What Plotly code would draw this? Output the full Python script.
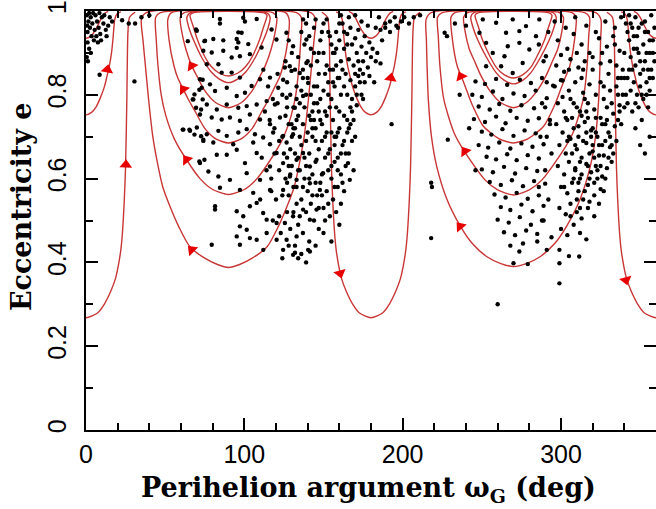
import plotly.graph_objects as go

# ---------------- trajectory profiles: eccentricity (bottom->top) and half-width (deg) ----------------
# family centred at omega = 90 deg
c1_e = [0.845, 0.852, 0.868, 0.889, 0.93, 0.96, 0.977, 0.99, 0.996]
c1_hw = [0, 6, 11, 14.7, 19.5, 22, 23.5, 24.3, 22]
c2_e = [0.829, 0.838, 0.855, 0.889, 0.93, 0.96, 0.985, 0.996]
c2_hw = [0, 6, 11, 16.9, 22, 25, 26.3, 24]
c3_e = [0.769, 0.781, 0.81, 0.845, 0.869, 0.91, 0.95, 0.985, 0.996]
c3_hw = [0, 8, 15, 20, 23.2, 27, 29.5, 30.5, 28]
c4_e = [0.685, 0.695, 0.72, 0.76, 0.79, 0.813, 0.84, 0.87, 0.93, 0.98, 0.996]
c4_hw = [0, 8, 15, 21, 25.5, 28.5, 32, 34.5, 37.5, 38.3, 36]
c5_e = [0.562, 0.574, 0.6, 0.645, 0.693, 0.749, 0.8, 0.868, 0.93, 0.985, 0.996]
c5_hw = [0, 10, 18, 26.5, 34, 39.5, 42.5, 44.5, 45.6, 46, 43]
c6_e = [0.388, 0.395, 0.41, 0.438, 0.486, 0.534, 0.58, 0.64, 0.70, 0.79, 0.87, 0.93, 0.98, 0.996]
c6_hw = [0, 7, 15, 24.5, 31.5, 37, 41.5, 45, 47.8, 50.5, 52.5, 54, 55, 52]

# family centred at omega = 270 deg
d1_e = [0.84, 0.848, 0.866, 0.889, 0.93, 0.96, 0.977, 0.99, 0.996]
d1_hw = [0, 6, 11, 14.5, 19.5, 22, 23.5, 24.3, 22]
d2_e = [0.826, 0.835, 0.853, 0.889, 0.93, 0.96, 0.985, 0.996]
d2_hw = [0, 6, 11, 17, 22.5, 25.5, 27, 25]
d3_e = [0.769, 0.781, 0.81, 0.845, 0.875, 0.91, 0.95, 0.985, 0.996]
d3_hw = [0, 8, 15, 20.5, 24, 28, 30.5, 31.5, 29]
d4_e = [0.685, 0.695, 0.725, 0.78, 0.82, 0.844, 0.868, 0.93, 0.985, 0.996]
d4_hw = [0, 9, 19, 26.5, 30.5, 33, 35.5, 38.5, 39.5, 37]
d5_e = [0.561, 0.573, 0.597, 0.665, 0.709, 0.789, 0.87, 0.94, 0.985, 0.996]
d5_hw = [0, 10, 18, 31, 37.5, 44, 46.5, 47.5, 48, 45]
d6_e = [0.39, 0.397, 0.414, 0.445, 0.486, 0.55, 0.629, 0.70, 0.789, 0.87, 0.93, 0.98, 0.996]
d6_hw = [0, 8, 17, 26, 33.5, 42, 48.5, 51.8, 53.8, 54.6, 55, 55.2, 52]

# open trajectories centred at 0, 180, 360 deg
s_e = [0.268, 0.28, 0.3, 0.33, 0.36, 0.39, 0.43, 0.47, 0.55, 0.63, 0.79, 0.95, 0.985, 0.997]
s_hw = [0, 7.5, 11.5, 15.5, 18.5, 20.3, 22, 23, 24.2, 25, 25.8, 26.5, 27.5, 31]
u_e = [0.752, 0.758, 0.772, 0.795, 0.82, 0.845, 0.868, 0.9, 0.932, 0.96, 0.98, 0.993, 0.998]
u_hw = [0, 3.5, 6.5, 9.3, 11.7, 13.3, 14.7, 16.1, 17, 17.6, 18.2, 19.5, 22]
v_e = [0.935, 0.94, 0.955, 0.97, 0.985, 0.995, 0.999]
v_hw = [0, 3, 6, 8, 10, 12, 14]

family_centres = [90, 270]
open_centres = [0, 180, 360]

# direction arrows (omega, e, heading in degrees clockwise from up)
arrow_w = [13.5, 25.2, 66.8, 63.5, 61.5, 66.8, 160.5, 192.5, 236.3, 239.3, 236.8, 341.0]
arrow_e = [0.86, 0.633, 0.43, 0.645, 0.813, 0.869, 0.374, 0.84, 0.486, 0.665, 0.844, 0.358]
arrow_dir = [10, 3, -45, -37, -37, -30, 165, 10, -40, -35, -25, 165]

# ---------------- observed objects (omega, e) ----------------
dots_corner = [(0.5,0.99),(1.5,0.975),(2.5,0.96),(1,0.95),(3,0.985),(4,0.97),(5.5,0.955),(6,0.99),(7,0.975),
    (8,0.96),(9,0.945),(10,0.985),(11,0.97),(12.5,0.955),(3.5,0.94),(1,0.925),(2,0.91),(0.5,0.89),(5,0.93),
    (7.5,0.925),(9.5,0.93),(13,0.94),(14,0.965),(4.5,0.995),(8.5,0.995),(2,0.995),(11.5,0.99),(6.5,0.94),
    (0.8,0.965),(1.2,0.88),(3,0.9),(15,0.985),(16.5,0.975),(8.6,0.848),(22.8,0.978),(27,0.97),(31,0.97),
    (30.6,0.832),(35,0.985),(40,0.99)]
dots_inner90 = [(84.6,0.981),(99.3,0.984),(107.8,0.981),(70,0.953),(75.2,0.929),(74.1,0.905),(79.4,0.901),
    (80.4,0.933),(96.2,0.949),(95.2,0.933),(102.5,0.921),(103.5,0.897),(110.9,0.913),(86.7,0.905),(85.7,0.853),
    (92,0.853),(97.2,0.841),(92,0.889),(83.6,0.873),(76.3,0.873),(84.6,0.97),(100.4,0.975),(98.3,0.948),
    (96.2,0.925),(95.2,0.912),(86.7,0.93),(97.2,0.892),(69.5,0.956),(64.3,0.928),(74.8,0.928)]
dots_mid90 = [(72.0,0.837),(73.1,0.817),(78.3,0.825),(81.5,0.809),(88.9,0.817),(95.2,0.797),(100.4,0.805),
    (104.6,0.821),(109.9,0.837),(116.2,0.841),(121.4,0.817),(125.6,0.865),(129.8,0.857),(67.8,0.789),(76.3,0.777),
    (82.6,0.765),(88.9,0.777),(96.2,0.769),(101.5,0.773),(107.8,0.777),(114.1,0.785),(119.3,0.777),(126.7,0.793),
    (131.9,0.769),(72.0,0.753),(79.4,0.746),(85.7,0.741),(90.9,0.746),(97.2,0.738),(103.5,0.753),(109.9,0.741),
    (116.2,0.730),(122.5,0.746),(129.8,0.730),(65.7,0.714),(70.0,0.722),(76.3,0.706),(83.6,0.714),(88.9,0.702),
    (96.2,0.710),(101.5,0.718),(106.7,0.706),(111.9,0.698),(118.2,0.710),(124.5,0.702),(130.8,0.706),(74.1,0.690),
    (80.4,0.686),(93.0,0.682),(105.6,0.686),(116.2,0.682),(126.7,0.686),(73.7,0.836),(71.6,0.812),(68.5,0.801),
    (73.7,0.789),(67.4,0.789),(69.5,0.769),(72.7,0.765),(61.1,0.717),(65.3,0.717),(68.5,0.705),(72.7,0.701),
    (71.6,0.641),(74.8,0.645),(61.5,0.717),(74.1,0.693),(72,0.637),
    (112,0.86),(115,0.82),(118,0.79),(121,0.85),(124,0.8),(127,0.77),(113,0.76),(116,0.74),(119,0.72),(122,0.69),
    (125,0.66),(128,0.63),(111,0.65),(114,0.62),(117,0.57),(110,0.55)]
dots_low90 = [(77.3,0.617),(82.6,0.657),(88.9,0.657),(95.2,0.669),(100.4,0.637),(107.8,0.661),(101.5,0.613),
    (109.9,0.597),(116.2,0.629),(120.4,0.661),(124.5,0.637),(128.8,0.605),(133,0.645),(137.1,0.661),(141.4,0.629),
    (145.6,0.645),(149.7,0.613),(83.6,0.605),(90.9,0.597),(84.6,0.578),(97.2,0.573),(105.6,0.566),(116.2,0.573),
    (124.5,0.573),(133,0.597),(141.4,0.589),(147.7,0.573),(81.5,0.534),(81.5,0.526),(95.2,0.522),(99.3,0.510),
    (103.5,0.534),(107.8,0.542),(111.9,0.518),(114.1,0.502),(120.4,0.494),(125.6,0.494),(130.8,0.510),(137.1,0.526),
    (141.4,0.502),(145.6,0.526),(97.2,0.486),(101.5,0.478),(95.2,0.462),(103.5,0.458),(114.1,0.470),(120.4,0.454),
    (126.7,0.454),(133,0.462),(79.4,0.442),(97.2,0.442),(107.8,0.454),(124.5,0.430),(130.8,0.418),(141.4,0.426),
    (121,0.78),(126,0.75),(131,0.72),(124,0.7),(129,0.67),(134,0.65),(119,0.66),(122,0.62),(127,0.59),(117,0.6),
    (120,0.55),(118,0.5),(123,0.47),(112,0.43),(128,0.44),(134,0.41),(124,0.41)]
dots_band_top = [(117.2,0.956),(120.3,0.932),(126.6,0.948),(130.8,0.916),(137.1,0.98),(139.2,0.932),(128.7,0.868),
    (135,0.852),(139.2,0.876),(124.5,0.836),(133,0.82),(140.3,0.828),(137.1,0.797),
    (158,0.95),(160,0.93),(162,0.97),(163,0.91),(165,0.945),(166,0.885),(167,0.96),(168,0.92),(169,0.87),(170,0.935),
    (171,0.9),(172,0.955),(173,0.86),(174,0.915),(175,0.88),(176,0.94),(177,0.9),(178,0.865),(179,0.925),(180,0.89),
    (181,0.91),(183,0.88),(184,0.9),(186,0.875),(164,0.85),(167,0.835),(170,0.82),(172,0.845),(174,0.8),(176,0.83),
    (161,0.88),(163,0.82),(165,0.8),(168,0.79),(171,0.775),(159,0.84),(157,0.9),(161,0.99),(166,0.985),(174,0.975),
    (178,0.965),(183,0.96),(187,0.93),(189,0.96),(192,0.975),(196,0.965),(185,0.985),(170,0.99),(162,0.86),(175,0.85),
    (179,0.845),(182,0.83),(186,0.955),(189,0.97),(192,0.95),(195,0.985),(197,0.96),(199,0.975),(201,0.985),
    (204,0.97),(207,0.985),(211,0.99),(193,0.73)]
dots_band_mid = [(140,0.84),(142,0.8),(143,0.76),(144,0.82),(145,0.72),(146,0.78),(147,0.85),(148,0.74),(149,0.69),
    (150,0.81),(151,0.76),(152,0.71),(153,0.83),(154,0.67),(155,0.79),(156,0.74),(157,0.7),(158,0.77),(159,0.65),
    (160,0.72),(161,0.8),(162,0.68),(163,0.75),(164,0.63),(165,0.71),(166,0.66),(167,0.73),(168,0.69),(169,0.62),
    (170,0.7),(138,0.77),(137,0.73),(139,0.69),(141,0.66),(143,0.7),(145,0.64),(147,0.67),(149,0.61),(151,0.65),
    (153,0.62),(155,0.6),(157,0.64),(159,0.58),(161,0.61),(163,0.57),(136,0.81),(134,0.75),(135,0.7),(132,0.72),
    (133,0.79),(146,0.88),(150,0.9),(152,0.87),(155,0.92),(156,0.86),(153,0.95),(148,0.93),(144,0.9),(141,0.94),
    (139,0.97),(145,0.98),(150,0.97),(157,0.82),(154,0.77),(160,0.76),(158,0.7),(142,0.87),(137,0.86),(148,0.79),
    (152,0.75),(144,0.74),(166.6,0.597),(165.5,0.637),
    (127,0.83),(129,0.8),(131,0.77),(133,0.74),(135,0.78),(137,0.84),(139,0.8),(141,0.75),(143,0.72),(145,0.69),
    (147,0.76),(149,0.73),(151,0.7),(153,0.66),(155,0.63),(157,0.68),(159,0.71),(161,0.66),(163,0.69),(165,0.74),
    (167,0.77),(169,0.74),(171,0.8),(173,0.83),(175,0.79),(160,0.84),(158,0.87),(156,0.9),(154,0.94),(152,0.98),
    (149,0.95),(147,0.9),(151,0.85),(153,0.8),(155,0.71),(159,0.62),(162,0.59),(164,0.66),(166,0.72),(168,0.76),
    (170,0.85),(172,0.88),(165,0.92),(163,0.95),(160,0.97),(158,0.91),(156,0.83),(154,0.86),(146,0.82),(144,0.78),
    (142,0.74),(140,0.71),(138,0.65),(136,0.68),(134,0.62),(132,0.66),(130,0.7),(128,0.73),(127,0.65),(129,0.61),
    (131,0.58),(133,0.54),(135,0.51),(137,0.58),(139,0.63),(141,0.6),(143,0.56),(145,0.59),(147,0.53),(149,0.56),
    (151,0.5),(153,0.54),(157,0.58),(161,0.54),(144,0.96),(142,0.91),(140,0.88),(138,0.92),(136,0.95),(134,0.89),
    (132,0.86),(130,0.9),(128,0.93),(126,0.88)]
dots_band_low = [(126,0.6),(128,0.56),(130,0.63),(131,0.52),(133,0.58),(134,0.49),(135,0.62),(136,0.55),(137,0.47),
    (138,0.6),(139,0.52),(140,0.57),(141,0.45),(142,0.54),(143,0.61),(144,0.5),(146,0.56),(147,0.48),(148,0.59),
    (150,0.53),(152,0.57),(154,0.51),(156,0.55),(158,0.52),(160,0.49),(129,0.48),(132,0.44),(136,0.42),(145,0.44),
    (150,0.47),(155,0.45),(139,0.4),(127,0.52),(124,0.56),(122,0.51),(140.3,0.43),(132,0.423)]
dots_inner270 = [(250.6,0.98),(259,0.972),(265.3,0.948),(269.5,0.98),(277.9,0.964),(286.3,0.98),(252.7,0.924),
    (256.9,0.9),(264.3,0.892),(273.7,0.924),(280,0.908),(284.2,0.94),(262.2,0.868),(269.5,0.852),(252.7,0.868),
    (290.5,0.892),(275.8,0.876),(248.5,0.948),(266.4,0.916),(273.7,0.952)]
dots_mid270 = [(246,0.832),(252,0.826),(259,0.838),(266,0.824),(274,0.836),(281,0.828),(288,0.84),(295,0.822),
    (301,0.834),(244,0.8),(250,0.795),(257,0.808),(263,0.79),(270,0.803),(277,0.797),(284,0.81),(291,0.792),
    (248,0.772),(255,0.765),(261,0.778),(268,0.762),(275,0.775),(283,0.768),(290,0.77),(245,0.742),(252,0.735),
    (259,0.748),(265,0.732),(272,0.745),(279,0.738),(286,0.744),(293,0.73),(250,0.712),(256,0.705),(263,0.718),
    (270,0.702),(277,0.715),(284,0.708),(291,0.7),(248,0.68),(254,0.674),(261,0.686),(268,0.672),(275,0.684),
    (282,0.676),(289,0.682),(253,0.652),(259,0.646),(266,0.658),(272,0.644),(279,0.656),(286,0.648),(250,0.622),
    (257,0.615),(264,0.628),(271,0.612),(278,0.625),(285,0.618),(255,0.592),(262,0.585),(269,0.596),(276,0.582),
    (283,0.594),(290,0.588),(258,0.562),(265,0.555),(272,0.566),(279,0.552),(286,0.56),(262,0.532),(268,0.525),
    (275,0.538),(282,0.522),(289,0.535),(260,0.502),(267,0.495),(274,0.508),(281,0.49),(288,0.5),(264,0.472),
    (271,0.465),(278,0.476),(285,0.468),(268,0.44),(276,0.445),(273.7,0.426),(270,0.398),(279,0.396),(260,0.3),
    (228.5,0.693),(218,0.59),(218.5,0.58),(218,0.458),(226.5,0.948),(228,0.94),(233,0.97),(240,0.965),(236,0.8),
    (242,0.72),(246,0.62)]
dots_right = [(296,0.975),(303,0.96),(309,0.985),(316,0.965),(322,0.95),(328,0.975),(334,0.96),(338,0.985),
    (298,0.93),(304,0.91),(308,0.945),(313,0.92),(318,0.9),(324,0.935),(329,0.915),(333,0.94),(337,0.905),(300,0.895),
    (297,0.87),(302,0.855),(306,0.885),(311,0.865),(315,0.88),(320,0.86),(325,0.875),(330,0.85),(335,0.87),(338,0.84),
    (296,0.82),(300,0.835),(305,0.81),(309,0.83),(314,0.805),(318,0.825),(322,0.8),(327,0.82),(331,0.81),(336,0.8),
    (298,0.78),(302,0.76),(306,0.79),(310,0.77),(313,0.75),(317,0.78),(321,0.765),(325,0.745),(329,0.77),(333,0.755),
    (337,0.775),(297,0.73),(301,0.71),(304,0.74),(308,0.72),(311,0.7),(315,0.735),(319,0.715),(323,0.7),(326,0.73),
    (330,0.71),(334,0.725),(299,0.68),(303,0.66),(306,0.695),(310,0.67),(313,0.65),(316,0.685),(320,0.665),
    (324,0.68),(327,0.655),(331,0.675),(298,0.63),(302,0.61),(305,0.64),(309,0.62),(312,0.6),(316,0.635),
    (319,0.615),(322,0.63),(326,0.605),(329,0.625),(300,0.58),(304,0.565),(307,0.59),(311,0.57),(314,0.55),
    (317,0.585),(321,0.56),(325,0.575),(299,0.53),(303,0.515),(306,0.54),(310,0.52),(313,0.505),(317,0.53),
    (321,0.51),(300,0.48),(304,0.465),(308,0.49),(312,0.47),(316,0.455),(299,0.43),(305,0.415),(311.5,0.414),
    (299,0.398),(299,0.35),(307,0.745),(311,0.725),(314,0.69),(318,0.66),(322,0.745),(316,0.76),(320,0.72),
    (324,0.655),(328,0.69),(312,0.64),(308,0.6),(318,0.6),(315,0.57),(310,0.55),(323,0.6),(327,0.57),(332,0.64),
    (335,0.69),(338,0.73),(340,0.77),(286,0.92),(289,0.88),(292,0.95),(291,0.83),(288,0.78),(293,0.74),(287,0.7),
    (294,0.66),(290,0.62),(286,0.58),(292,0.55),(289,0.5),(294,0.46),(285,0.45),(291,0.43),
    (301,0.795),(303,0.745),(305,0.7),(307,0.66),(309,0.625),(311,0.59),(313,0.84),(315,0.79),(317,0.745),(319,0.7),
    (321,0.65),(323,0.62),(325,0.83),(327,0.79),(329,0.74),(331,0.7),(333,0.66),(335,0.82),(337,0.76),(339,0.8),
    (302,0.58),(306,0.51),(312,0.53),(318,0.545),(324,0.54),(328,0.6),(332,0.68),(336,0.74),(340,0.84),(305,0.86),
    (310,0.9),(314,0.86),(320,0.89),(326,0.9),(331,0.88),(334,0.92),(308,0.78),(312,0.76),(316,0.71),(320,0.68),
    (322,0.71),(326,0.68),(330,0.65),(304,0.69),(309,0.68),(313,0.61),(317,0.63),(321,0.59),(325,0.63),(328,0.73),
    (332,0.78),(336,0.84)]
dots_topright = [(341,0.97),(343,0.93),(344,0.89),(345,0.96),(346,0.91),(347,0.87),(348,0.94),(349,0.9),(350,0.85),
    (351,0.97),(352,0.92),(353,0.88),(354,0.83),(355,0.95),(356,0.9),(357,0.86),(358,0.93),(359,0.88),(342,0.84),
    (344,0.81),(346,0.83),(348,0.8),(350,0.82),(352,0.79),(354,0.8),(356,0.81),(358,0.84),(343,0.99),(347,0.985),
    (353,0.975),(357,0.99),(340,0.9),(339,0.86),(345,0.76),(349,0.77),(355,0.77),(351,0.74),(347,0.72),(342,0.78),
    (359,0.96),(353,0.95),(349,0.96),(345,0.86),(356,0.84),(341,0.8),(350,0.68),(356,0.7),(353,0.66),
    (342,0.95),(344,0.97),(346,0.94),(348,0.91),(350,0.88),(352,0.86),(354,0.9),(356,0.93),(358,0.9),(355,0.86),
    (351,0.8),(347,0.78),(343,0.86)]

CURVE_COLOR = "#c93636"
ARROW_COLOR = "#e60000"


def closed_loop(centre, e, hw):
    xs = [centre - h for h in reversed(hw)] + [centre + h for h in hw[1:]]
    ys = list(reversed(e)) + e[1:]
    xs.append(centre - hw[-1])
    ys.append(e[-1])
    return xs, ys


def open_curve(centre, e, hw):
    xs = [centre - h for h in reversed(hw)] + [centre + h for h in hw[1:]]
    ys = list(reversed(e)) + e[1:]
    return xs, ys


fig = go.Figure()

line_style = dict(color=CURVE_COLOR, width=1.4, shape="spline", smoothing=0.7)
loops90 = [(c1_e, c1_hw), (c2_e, c2_hw), (c3_e, c3_hw), (c4_e, c4_hw), (c5_e, c5_hw), (c6_e, c6_hw)]
loops270 = [(d1_e, d1_hw), (d2_e, d2_hw), (d3_e, d3_hw), (d4_e, d4_hw), (d5_e, d5_hw), (d6_e, d6_hw)]
for centre, loops in zip(family_centres, [loops90, loops270]):
    for e, hw in loops:
        xs, ys = closed_loop(centre, e, hw)
        fig.add_trace(go.Scatter(x=xs, y=ys, mode="lines", line=line_style,
                                 hoverinfo="skip", showlegend=False))

for centre in open_centres:
    for e, hw in [(s_e, s_hw), (u_e, u_hw), (v_e, v_hw)]:
        xs, ys = open_curve(centre, e, hw)
        fig.add_trace(go.Scatter(x=xs, y=ys, mode="lines", line=line_style,
                                 hoverinfo="skip", showlegend=False))

all_dots = (dots_corner + dots_inner90 + dots_mid90 + dots_low90 + dots_band_top + dots_band_mid +
            dots_band_low + dots_inner270 + dots_mid270 + dots_right + dots_topright)
fig.add_trace(go.Scatter(x=[p[0] for p in all_dots], y=[p[1] for p in all_dots], mode="markers",
                         marker=dict(color="black", size=4.4, symbol="circle", line=dict(width=0)),
                         showlegend=False))

fig.add_trace(go.Scatter(x=arrow_w, y=arrow_e, mode="markers",
                         marker=dict(symbol="triangle-up", size=11, color=ARROW_COLOR, angle=arrow_dir,
                                     line=dict(width=0)),
                         showlegend=False))

tick_font = dict(family="Liberation Sans, Arial, sans-serif", size=25, color="black")
fig.update_layout(
    width=656, height=509,
    margin=dict(l=86, r=0, t=11, b=79, autoexpand=False),
    paper_bgcolor="white", plot_bgcolor="white",
    xaxis=dict(range=[0, 360], tick0=0, dtick=100, ticks="inside", ticklen=12, tickwidth=2,
               tickcolor="black", showline=True, linewidth=2, linecolor="black", mirror="ticks",
               showgrid=False, zeroline=False, tickfont=tick_font, ticklabelstandoff=1, automargin=False,
               ticklabeloverflow="allow",
               minor=dict(dtick=20, ticks="inside", ticklen=7, tickwidth=1.5, tickcolor="black")),
    yaxis=dict(range=[0, 1], tick0=0, dtick=0.2, ticks="inside", ticklen=12, tickwidth=2,
               tickcolor="black", showline=True, linewidth=2, linecolor="black", mirror="ticks",
               showgrid=False, zeroline=False, tickfont=tick_font, tickangle=-90, ticklabelstandoff=8,
               automargin=False, ticklabeloverflow="allow",
               minor=dict(dtick=0.1, ticks="inside", ticklen=7, tickwidth=1.5, tickcolor="black")),
    annotations=[
        dict(text="<b>Perihelion argument ω<sub>G</sub> (deg)</b>", xref="paper", yref="paper",
             x=0.495, y=-0.141, xanchor="center", yanchor="middle", showarrow=False,
             font=dict(family="DejaVu Serif", size=27, color="black")),
        dict(text="<b>Eccentricity e</b>", xref="paper", yref="paper", x=-0.114, y=0.532,
             xanchor="center", yanchor="middle", textangle=-90, showarrow=False,
             font=dict(family="DejaVu Serif", size=27, color="black")),
    ],
)

# remove the browser's default 8 px page margin so the 656x509 figure fills the window exactly
fig.write_html("out.html", config={"displayModeBar": False},
               post_script="document.body.style.margin='0';document.body.style.overflow='hidden';")
